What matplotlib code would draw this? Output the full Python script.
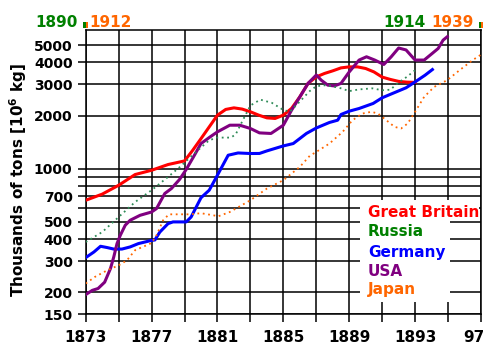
import matplotlib.pyplot as plt
import matplotlib.transforms as mtransforms
from matplotlib.patches import Rectangle
from matplotlib.ticker import NullLocator

plt.rcParams['font.family'] = 'DejaVu Sans'
plt.rcParams['font.weight'] = 'bold'

# values (thousands of tons)
gb_years = [1873, 1874, 1875, 1876, 1877, 1878, 1879, 1879.5, 1880, 1880.5, 1881, 1881.5, 1882,
            1882.5, 1883, 1883.5, 1884, 1884.5, 1885, 1885.5, 1886, 1886.5, 1887, 1887.5, 1888,
            1888.5, 1889, 1889.5, 1890, 1890.5, 1891, 1891.5, 1892, 1892.5, 1893]
gb_vals = [663, 718, 806, 927, 980, 1056, 1107, 1273, 1480, 1725, 2010, 2165, 2210,
           2175, 2100, 2010, 1940, 1925, 2010, 2195, 2550, 3040, 3310, 3460, 3580,
           3720, 3770, 3770, 3690, 3530, 3300, 3200, 3120, 3090, 3080]

ru_years = [1873, 1874, 1875, 1876, 1877, 1878, 1878.7, 1879.7, 1880.5, 1881, 1881.8, 1882.1,
            1882.5, 1883, 1883.6, 1884.3, 1885, 1885.4, 1886, 1886.6, 1887, 1887.6, 1888.4,
            1889, 1889.6, 1890.4, 1891, 1891.5, 1892, 1892.5, 1893]
ru_vals = [385, 438, 533, 648, 756, 899, 1020, 1245, 1450, 1500, 1500, 1560,
           1850, 2280, 2460, 2360, 2150, 2100, 2400, 2750, 2930, 2970, 2870,
           2750, 2810, 2850, 2780, 2800, 3080, 3310, 3610]

de_years = [1873, 1873.5, 1873.9, 1874.3, 1874.7, 1875.2, 1875.7, 1876.2, 1877, 1877.2, 1877.5,
            1878, 1878.3, 1879.1, 1879.4, 1880, 1880.5, 1881, 1881.65, 1882.25, 1883, 1883.55,
            1884, 1885, 1885.6, 1886, 1886.4, 1887, 1887.8, 1888.3, 1888.5, 1889, 1889.6,
            1890.45, 1891, 1891.85, 1892.45, 1893, 1893.6, 1894.05]
de_vals = [314, 338, 364, 358, 351, 351, 361, 377, 393, 395, 438,
           489, 500, 500, 533, 685, 756, 920, 1192, 1228, 1219, 1220,
           1261, 1346, 1388, 1482, 1583, 1700, 1827, 1882, 2027, 2116, 2192,
           2340, 2520, 2720, 2870, 3100, 3380, 3640]

us_years = [1873, 1873.4, 1873.75, 1874.15, 1874.5, 1874.7, 1874.9, 1875.1, 1875.4, 1875.7,
            1876.3, 1877, 1877.3, 1877.8, 1878.2, 1878.7, 1879.1, 1879.6, 1880, 1880.55, 1881,
            1881.75, 1882.35, 1883, 1883.55, 1884.25, 1885, 1885.5, 1886, 1886.5, 1887, 1887.3,
            1887.7, 1888.1, 1888.5, 1889, 1889.6, 1890.05, 1890.55, 1891.1, 1891.55, 1892,
            1892.45, 1893, 1893.55, 1894.05, 1894.4, 1894.7, 1894.95]
us_vals = [194, 205, 210, 228, 272, 316, 377, 420, 479, 511,
           545, 569, 595, 724, 772, 870, 990, 1192, 1388, 1513, 1617,
           1763, 1763, 1689, 1595, 1583, 1763, 2145, 2550, 3040, 3390, 3170,
           2970, 2940, 3040, 3530, 4120, 4300, 4120, 3890, 4300, 4820,
           4700, 4120, 4120, 4500, 4790, 5340, 5580]

jp_years = [1873, 1873.55, 1874.3, 1875, 1875.5, 1876, 1876.7, 1877, 1877.3, 1877.7, 1878.05,
            1879.3, 1880, 1880.75, 1881.05, 1881.75, 1883, 1884, 1885, 1886, 1886.6, 1887,
            1887.8, 1888.6, 1889.2, 1889.8, 1890.35, 1890.75, 1891.25, 1891.75, 1892.15,
            1892.55, 1893, 1893.55, 1894.15, 1894.95, 1895.7, 1896.5, 1897]
jp_vals = [224, 244, 266, 284, 303, 346, 369, 380, 420, 511, 552,
           552, 560, 545, 538, 569, 663, 772, 861, 1024, 1182, 1245,
           1388, 1617, 1882, 2052, 2100, 2050, 1882, 1725, 1689,
           1803, 2100, 2550, 2900, 3170, 3610, 4120, 4420]

grid_vals = [150, 200, 300, 400, 500, 600, 700, 800, 900, 1000, 2000, 3000, 4000, 5000]
labelled_vals = [150, 200, 300, 400, 500, 700, 1000, 2000, 3000, 4000, 5000]
grid_years = list(range(1873, 1898, 2))

names = ['Great Britain', 'Russia', 'Germany', 'USA', 'Japan']
text_colors = ['#ff0000', '#008000', '#0000ff', '#800080', '#ff6600']

fig = plt.figure(figsize=(4.89, 3.48), dpi=100)
ax = fig.add_axes([0.1753, 0.0968, 0.8083, 0.8161])

# solid lines
ax.plot(gb_years, gb_vals, color='#ff0000', lw=2.2, zorder=3)
ax.plot(de_years, de_vals, color='#0000ff', lw=2.2, zorder=3)
ax.plot(us_years, us_vals, color='#800080', lw=2.2, zorder=3)
# dotted lines (other time scale)
ax.plot(ru_years, ru_vals, color='#2e8b57', lw=1.3, ls=(0, (1, 2)), zorder=3)
ax.plot(jp_years, jp_vals, color='#ff6600', lw=1.3, ls=(0, (1, 2)), zorder=3)

ax.set_yscale('log')
ax.set_ylim(150, 6070)
ax.set_xlim(1873, 1897)
ax.yaxis.set_minor_locator(NullLocator())
ax.set_yticks(grid_vals)
ax.set_yticklabels([str(v) if v in labelled_vals else '' for v in grid_vals])
ax.set_xticks(grid_years)
xlabels = []
for y in grid_years:
    if y == 1897:
        xlabels.append('97')
    elif (y - 1873) % 4 == 0:
        xlabels.append(str(y))
    else:
        xlabels.append('')
ax.set_xticklabels(xlabels)

ax.grid(True, color='black', lw=1.1)
ax.tick_params(axis='both', direction='out', length=6, width=1.1, color='black')
ax.tick_params(axis='y', labelsize=10, pad=3.5)
ax.tick_params(axis='x', labelsize=11, pad=5)
for s in ax.spines.values():
    s.set_linewidth(1.1)

# the last label "97" sits a bit left of its tick so it stays inside the figure
last = ax.get_xticklabels()[-1]
last.set_transform(last.get_transform() +
                   mtransforms.ScaledTranslation(-5 / 72, 0, fig.dpi_scale_trans))

# white area behind the legend
ax.add_patch(Rectangle((0.694, 0.043), 0.228, 0.36, transform=ax.transAxes,
                       facecolor='white', edgecolor='none', zorder=2))
ax.add_patch(Rectangle((0.92, 0.346), 0.076, 0.057, transform=ax.transAxes,
                       facecolor='white', edgecolor='none', zorder=2))
baselines = [0.344, 0.277, 0.203, 0.136, 0.070]
for name, c, yb in zip(names, text_colors, baselines):
    ax.text(0.714, yb, name, color=c, fontsize=11, fontweight='bold',
            transform=ax.transAxes, va='baseline', ha='left', zorder=4)

fig.text(0.037, 0.483, r'Thousands of tons [10$^\mathbf{6}$ kg]', rotation=90,
         ha='center', va='center', fontsize=11, fontweight='bold')

# second time scale labels on top
fig.text(78 / 489, 0.9233, '1890', color='#008000', fontsize=11, ha='right', va='baseline')
fig.text(89 / 489, 0.9233, '1912', color='#ff6600', fontsize=11, ha='left', va='baseline')
fig.text(425.7 / 489, 0.9233, '1914', color='#008000', fontsize=11, ha='right', va='baseline')
fig.text(474 / 489, 0.9233, '1939', color='#ff6600', fontsize=11, ha='right', va='baseline')
for x0 in [0.0, 1.0]:
    ax.add_patch(Rectangle((x0 - 0.006, 1.008), 0.006, 0.021, transform=ax.transAxes,
                           facecolor='#008000', edgecolor='none', clip_on=False))
    ax.add_patch(Rectangle((x0, 1.008), 0.006, 0.021, transform=ax.transAxes,
                           facecolor='#ff6600', edgecolor='none', clip_on=False))

fig.savefig('out.png', dpi=100, facecolor='white')
